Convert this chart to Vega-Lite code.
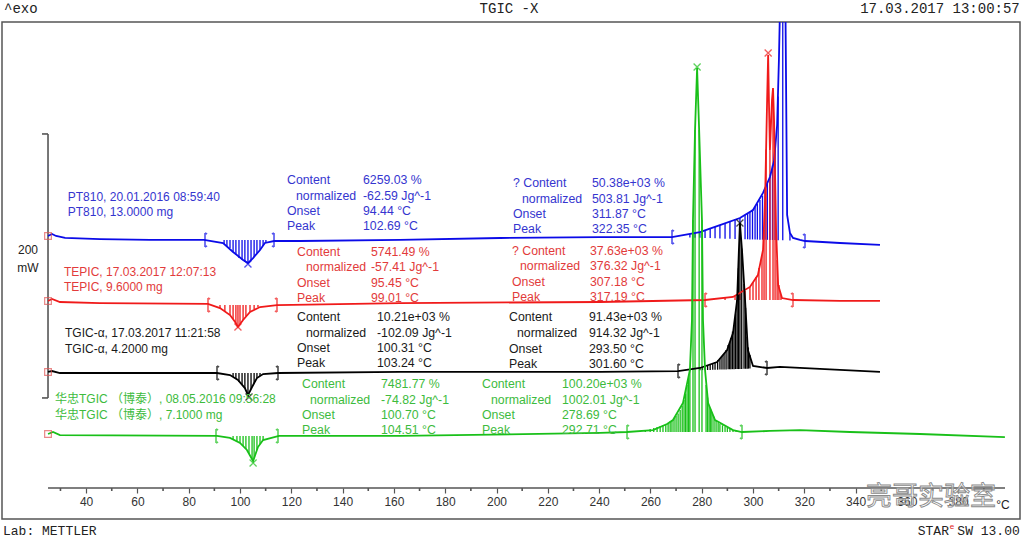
{
"$schema":"https://vega.github.io/schema/vega-lite/v6.json",
"width":1018,"height":497,
"autosize":{"type":"none"},
"padding":{"left":2,"top":22,"right":4,"bottom":26},
"background":"#ffffff",
"config":{"view":{"stroke":"#555555","strokeWidth":1.5},"font":"Liberation Sans"},
"datasets":{
"curves":[
{"s":"PT810","T":25.15,"mW":214.4},{"s":"PT810","T":26.7,"mW":215.9},{"s":"PT810","T":28.3,"mW":214.4},{"s":"PT810","T":31.8,"mW":212.9},{"s":"PT810","T":45.4,"mW":212.1},{"s":"PT810","T":64.9,"mW":211.4},{"s":"PT810","T":86.0,"mW":211.4},{"s":"PT810","T":93.4,"mW":209.1},{"s":"PT810","T":97.3,"mW":202.3},{"s":"PT810","T":101.2,"mW":196.2},{"s":"PT810","T":103.1,"mW":193.9},{"s":"PT810","T":105.1,"mW":197.7},{"s":"PT810","T":107.8,"mW":203.8},{"s":"PT810","T":109.7,"mW":209.1},{"s":"PT810","T":113.3,"mW":210.6},{"s":"PT810","T":123.4,"mW":210.6},{"s":"PT810","T":162.4,"mW":211.4},{"s":"PT810","T":201.4,"mW":212.9},{"s":"PT810","T":240.4,"mW":213.6},{"s":"PT810","T":268.4,"mW":213.6},{"s":"PT810","T":279.3,"mW":217.4},{"s":"PT810","T":287.1,"mW":222.7},{"s":"PT810","T":294.9,"mW":228.0},{"s":"PT810","T":300.0,"mW":234.1},{"s":"PT810","T":303.9,"mW":247.0},{"s":"PT810","T":306.6,"mW":259.1},{"s":"PT810","T":308.2,"mW":271.2},{"s":"PT810","T":309.4,"mW":298.5},{"s":"PT810","T":310.1,"mW":347.7},{"s":"PT810","T":310.9,"mW":423.5},{"s":"PT810","T":312.5,"mW":423.5},{"s":"PT810","T":313.3,"mW":230.3},{"s":"PT810","T":314.4,"mW":216.7},{"s":"PT810","T":315.6,"mW":212.9},{"s":"PT810","T":318.3,"mW":211.4},{"s":"PT810","T":320.3,"mW":210.6},{"s":"PT810","T":333.9,"mW":209.1},{"s":"PT810","T":349.5,"mW":207.6},
{"s":"TEPIC","T":25.15,"mW":165.2},{"s":"TEPIC","T":26.7,"mW":166.7},{"s":"TEPIC","T":29.8,"mW":164.4},{"s":"TEPIC","T":45.4,"mW":163.6},{"s":"TEPIC","T":87.5,"mW":162.9},{"s":"TEPIC","T":92.2,"mW":159.8},{"s":"TEPIC","T":96.1,"mW":154.5},{"s":"TEPIC","T":98.1,"mW":149.2},{"s":"TEPIC","T":99.2,"mW":145.5},{"s":"TEPIC","T":101.2,"mW":150.8},{"s":"TEPIC","T":103.9,"mW":156.8},{"s":"TEPIC","T":107.8,"mW":160.6},{"s":"TEPIC","T":114.4,"mW":162.1},{"s":"TEPIC","T":162.4,"mW":163.6},{"s":"TEPIC","T":240.4,"mW":164.4},{"s":"TEPIC","T":281.3,"mW":165.9},{"s":"TEPIC","T":292.2,"mW":168.2},{"s":"TEPIC","T":298.8,"mW":175.8},{"s":"TEPIC","T":301.9,"mW":184.8},{"s":"TEPIC","T":303.9,"mW":203.8},{"s":"TEPIC","T":304.7,"mW":241.7},{"s":"TEPIC","T":305.5,"mW":317.4},{"s":"TEPIC","T":305.9,"mW":351.5},{"s":"TEPIC","T":306.2,"mW":317.4},{"s":"TEPIC","T":306.6,"mW":279.5},{"s":"TEPIC","T":307.4,"mW":317.4},{"s":"TEPIC","T":307.8,"mW":326.5},{"s":"TEPIC","T":308.2,"mW":302.3},{"s":"TEPIC","T":309.0,"mW":218.9},{"s":"TEPIC","T":309.8,"mW":177.3},{"s":"TEPIC","T":311.3,"mW":167.4},{"s":"TEPIC","T":315.6,"mW":165.9},{"s":"TEPIC","T":333.9,"mW":165.2},{"s":"TEPIC","T":349.5,"mW":165.2},
{"s":"TGIC-α","T":25.15,"mW":111.4},{"s":"TGIC-α","T":26.7,"mW":112.1},{"s":"TGIC-α","T":29.8,"mW":110.6},{"s":"TGIC-α","T":91.0,"mW":110.6},{"s":"TGIC-α","T":96.1,"mW":109.1},{"s":"TGIC-α","T":99.2,"mW":105.3},{"s":"TGIC-α","T":101.9,"mW":99.2},{"s":"TGIC-α","T":103.1,"mW":93.9},{"s":"TGIC-α","T":104.7,"mW":100.0},{"s":"TGIC-α","T":106.6,"mW":106.8},{"s":"TGIC-α","T":109.0,"mW":109.8},{"s":"TGIC-α","T":114.8,"mW":110.6},{"s":"TGIC-α","T":162.4,"mW":111.4},{"s":"TGIC-α","T":240.4,"mW":111.4},{"s":"TGIC-α","T":270.8,"mW":112.1},{"s":"TGIC-α","T":279.3,"mW":114.4},{"s":"TGIC-α","T":286.0,"mW":118.9},{"s":"TGIC-α","T":289.9,"mW":128.0},{"s":"TGIC-α","T":292.2,"mW":140.9},{"s":"TGIC-α","T":293.8,"mW":165.9},{"s":"TGIC-α","T":294.5,"mW":203.8},{"s":"TGIC-α","T":294.9,"mW":224.2},{"s":"TGIC-α","T":295.7,"mW":203.8},{"s":"TGIC-α","T":296.9,"mW":165.9},{"s":"TGIC-α","T":298.0,"mW":128.0},{"s":"TGIC-α","T":300.0,"mW":115.9},{"s":"TGIC-α","T":305.5,"mW":114.4},{"s":"TGIC-α","T":310.5,"mW":115.2},{"s":"TGIC-α","T":333.9,"mW":112.9},{"s":"TGIC-α","T":349.5,"mW":111.4},
{"s":"华忠TGIC","T":25.15,"mW":64.4},{"s":"华忠TGIC","T":27.1,"mW":65.9},{"s":"华忠TGIC","T":29.8,"mW":63.6},{"s":"华忠TGIC","T":91.0,"mW":62.9},{"s":"华忠TGIC","T":96.1,"mW":61.4},{"s":"华忠TGIC","T":100.0,"mW":57.6},{"s":"华忠TGIC","T":102.7,"mW":52.3},{"s":"华忠TGIC","T":105.1,"mW":43.9},{"s":"华忠TGIC","T":107.0,"mW":54.5},{"s":"华忠TGIC","T":109.0,"mW":59.8},{"s":"华忠TGIC","T":115.2,"mW":62.9},{"s":"华忠TGIC","T":162.4,"mW":62.9},{"s":"华忠TGIC","T":240.4,"mW":65.2},{"s":"华忠TGIC","T":250.9,"mW":65.9},{"s":"华忠TGIC","T":261.0,"mW":67.4},{"s":"华忠TGIC","T":266.5,"mW":72.0},{"s":"华忠TGIC","T":268.8,"mW":75.0},{"s":"华忠TGIC","T":272.7,"mW":87.9},{"s":"华忠TGIC","T":275.4,"mW":112.9},{"s":"华忠TGIC","T":276.2,"mW":150.8},{"s":"华忠TGIC","T":276.6,"mW":226.5},{"s":"华忠TGIC","T":277.4,"mW":294.7},{"s":"华忠TGIC","T":278.2,"mW":341.7},{"s":"华忠TGIC","T":279.0,"mW":294.7},{"s":"华忠TGIC","T":280.1,"mW":226.5},{"s":"华忠TGIC","T":280.5,"mW":150.8},{"s":"华忠TGIC","T":281.3,"mW":112.9},{"s":"华忠TGIC","T":282.5,"mW":87.9},{"s":"华忠TGIC","T":285.2,"mW":75.0},{"s":"华忠TGIC","T":292.2,"mW":67.4},{"s":"华忠TGIC","T":295.7,"mW":65.9},{"s":"华忠TGIC","T":306.6,"mW":66.7},{"s":"华忠TGIC","T":318.3,"mW":67.4},{"s":"华忠TGIC","T":337.8,"mW":65.9},{"s":"华忠TGIC","T":365.1,"mW":64.4},{"s":"华忠TGIC","T":398.2,"mW":62.1}
],
"hatch":[
{"s":"PT810","T":93.8,"mW":208.3,"mW2":211.4},{"s":"PT810","T":94.9,"mW":206.8,"mW2":211.4},{"s":"PT810","T":96.1,"mW":205.3,"mW2":211.4},{"s":"PT810","T":97.3,"mW":202.3,"mW2":211.4},{"s":"PT810","T":98.4,"mW":200.0,"mW2":211.4},{"s":"PT810","T":99.6,"mW":197.7,"mW2":211.4},{"s":"PT810","T":100.8,"mW":196.2,"mW2":211.4},{"s":"PT810","T":101.9,"mW":194.7,"mW2":211.4},{"s":"PT810","T":103.1,"mW":193.9,"mW2":211.4},{"s":"PT810","T":104.3,"mW":196.2,"mW2":211.4},{"s":"PT810","T":105.5,"mW":198.5,"mW2":211.4},{"s":"PT810","T":106.6,"mW":201.5,"mW2":211.4},{"s":"PT810","T":107.8,"mW":203.8,"mW2":211.4},{"s":"PT810","T":109.0,"mW":206.8,"mW2":211.4},{"s":"PT810","T":110.1,"mW":209.8,"mW2":211.4},
{"s":"PT810","T":275.4,"mW":215.9,"mW2":213.3},{"s":"PT810","T":277.4,"mW":216.7,"mW2":213.1},{"s":"PT810","T":279.3,"mW":217.4,"mW2":213.0},{"s":"PT810","T":281.3,"mW":218.9,"mW2":212.9},{"s":"PT810","T":283.3,"mW":220.5,"mW2":212.8},{"s":"PT810","T":285.2,"mW":221.2,"mW2":212.6},{"s":"PT810","T":287.1,"mW":222.7,"mW2":212.5},{"s":"PT810","T":289.1,"mW":224.2,"mW2":212.4},{"s":"PT810","T":291.0,"mW":225.8,"mW2":212.3},{"s":"PT810","T":293.0,"mW":227.3,"mW2":212.2},{"s":"PT810","T":294.9,"mW":228.0,"mW2":212.1},{"s":"PT810","T":296.9,"mW":230.3,"mW2":211.9},{"s":"PT810","T":297.9,"mW":231.4,"mW2":211.9},{"s":"PT810","T":298.8,"mW":232.6,"mW2":211.8},{"s":"PT810","T":299.8,"mW":234.4,"mW2":211.8},{"s":"PT810","T":300.8,"mW":236.4,"mW2":211.7},{"s":"PT810","T":301.7,"mW":238.8,"mW2":211.7},{"s":"PT810","T":302.7,"mW":241.7,"mW2":211.6},{"s":"PT810","T":303.7,"mW":245.0,"mW2":211.6},{"s":"PT810","T":304.7,"mW":249.2,"mW2":211.5},{"s":"PT810","T":305.6,"mW":253.8,"mW2":211.5},{"s":"PT810","T":306.6,"mW":259.1,"mW2":211.4},{"s":"PT810","T":307.6,"mW":268.0,"mW2":211.4},{"s":"PT810","T":308.6,"mW":280.0,"mW2":211.3},{"s":"PT810","T":309.8,"mW":320.0,"mW2":211.2},{"s":"PT810","T":311.6,"mW":400.0,"mW2":211.1},{"s":"PT810","T":314.4,"mW":216.7,"mW2":211.0},
{"s":"TEPIC","T":92.2,"mW":159.8,"mW2":162.1},{"s":"TEPIC","T":94.1,"mW":157.6,"mW2":162.1},{"s":"TEPIC","T":96.1,"mW":154.5,"mW2":162.1},{"s":"TEPIC","T":97.3,"mW":151.5,"mW2":162.1},{"s":"TEPIC","T":98.4,"mW":147.7,"mW2":162.1},{"s":"TEPIC","T":99.2,"mW":145.5,"mW2":162.1},{"s":"TEPIC","T":100.0,"mW":147.7,"mW2":162.1},{"s":"TEPIC","T":101.2,"mW":150.8,"mW2":162.1},{"s":"TEPIC","T":102.3,"mW":153.8,"mW2":162.1},{"s":"TEPIC","T":103.9,"mW":156.8,"mW2":162.1},{"s":"TEPIC","T":105.5,"mW":159.1,"mW2":162.1},{"s":"TEPIC","T":107.0,"mW":160.6,"mW2":162.1},
{"s":"TEPIC","T":289.1,"mW":167.4,"mW2":165.9},{"s":"TEPIC","T":293.0,"mW":168.9,"mW2":165.9},{"s":"TEPIC","T":294.9,"mW":170.5,"mW2":165.9},{"s":"TEPIC","T":296.9,"mW":172.7,"mW2":165.9},{"s":"TEPIC","T":298.8,"mW":175.8,"mW2":165.9},{"s":"TEPIC","T":300.0,"mW":179.5,"mW2":165.9},{"s":"TEPIC","T":301.2,"mW":183.3,"mW2":165.9},{"s":"TEPIC","T":302.3,"mW":190.2,"mW2":165.9},{"s":"TEPIC","T":303.5,"mW":200.0,"mW2":165.9},{"s":"TEPIC","T":304.3,"mW":218.9,"mW2":165.9},{"s":"TEPIC","T":305.1,"mW":280.0,"mW2":165.9},{"s":"TEPIC","T":306.6,"mW":279.5,"mW2":165.9},{"s":"TEPIC","T":307.8,"mW":320.0,"mW2":165.9},{"s":"TEPIC","T":308.6,"mW":260.0,"mW2":165.9},{"s":"TEPIC","T":309.4,"mW":196.2,"mW2":165.9},{"s":"TEPIC","T":310.1,"mW":177.3,"mW2":165.9},{"s":"TEPIC","T":310.9,"mW":169.7,"mW2":165.9},
{"s":"TGIC-α","T":97.3,"mW":107.6,"mW2":110.6},{"s":"TGIC-α","T":98.4,"mW":106.1,"mW2":110.6},{"s":"TGIC-α","T":99.6,"mW":103.8,"mW2":110.6},{"s":"TGIC-α","T":100.8,"mW":101.5,"mW2":110.6},{"s":"TGIC-α","T":101.9,"mW":99.2,"mW2":110.6},{"s":"TGIC-α","T":103.1,"mW":93.9,"mW2":110.6},{"s":"TGIC-α","T":104.3,"mW":98.5,"mW2":110.6},{"s":"TGIC-α","T":105.5,"mW":103.0,"mW2":110.6},{"s":"TGIC-α","T":106.6,"mW":106.8,"mW2":110.6},{"s":"TGIC-α","T":107.8,"mW":108.3,"mW2":110.6},
{"s":"TGIC-α","T":279.3,"mW":114.4,"mW2":112.7},{"s":"TGIC-α","T":280.3,"mW":115.0,"mW2":112.8},{"s":"TGIC-α","T":281.3,"mW":115.9,"mW2":112.8},{"s":"TGIC-α","T":282.3,"mW":116.6,"mW2":112.9},{"s":"TGIC-α","T":283.3,"mW":117.4,"mW2":112.9},{"s":"TGIC-α","T":284.3,"mW":118.1,"mW2":113.0},{"s":"TGIC-α","T":285.2,"mW":118.9,"mW2":113.1},{"s":"TGIC-α","T":286.2,"mW":120.3,"mW2":113.1},{"s":"TGIC-α","T":287.1,"mW":122.0,"mW2":113.2},{"s":"TGIC-α","T":287.9,"mW":123.5,"mW2":113.2},{"s":"TGIC-α","T":288.7,"mW":125.0,"mW2":113.3},{"s":"TGIC-α","T":289.5,"mW":128.0,"mW2":113.3},{"s":"TGIC-α","T":290.3,"mW":131.8,"mW2":113.4},{"s":"TGIC-α","T":290.9,"mW":134.0,"mW2":113.4},{"s":"TGIC-α","T":291.4,"mW":137.1,"mW2":113.5},{"s":"TGIC-α","T":292.0,"mW":142.0,"mW2":113.5},{"s":"TGIC-α","T":292.6,"mW":147.0,"mW2":113.5},{"s":"TGIC-α","T":293.2,"mW":155.0,"mW2":113.6},{"s":"TGIC-α","T":293.8,"mW":165.9,"mW2":113.6},{"s":"TGIC-α","T":294.3,"mW":190.0,"mW2":113.6},{"s":"TGIC-α","T":294.9,"mW":224.2,"mW2":113.7},{"s":"TGIC-α","T":295.6,"mW":205.0,"mW2":113.7},{"s":"TGIC-α","T":296.5,"mW":178.0,"mW2":113.8},{"s":"TGIC-α","T":297.1,"mW":160.0,"mW2":113.8},{"s":"TGIC-α","T":297.7,"mW":138.0,"mW2":113.9},{"s":"TGIC-α","T":298.2,"mW":130.0,"mW2":113.9},{"s":"TGIC-α","T":298.8,"mW":124.2,"mW2":114.0},
{"s":"华忠TGIC","T":97.3,"mW":59.8,"mW2":62.9},{"s":"华忠TGIC","T":98.8,"mW":58.3,"mW2":62.9},{"s":"华忠TGIC","T":100.0,"mW":57.6,"mW2":62.9},{"s":"华忠TGIC","T":101.2,"mW":55.3,"mW2":62.9},{"s":"华忠TGIC","T":102.3,"mW":53.0,"mW2":62.9},{"s":"华忠TGIC","T":103.5,"mW":49.2,"mW2":62.9},{"s":"华忠TGIC","T":104.7,"mW":45.5,"mW2":62.9},{"s":"华忠TGIC","T":105.5,"mW":46.1,"mW2":62.9},{"s":"华忠TGIC","T":106.6,"mW":52.3,"mW2":62.9},{"s":"华忠TGIC","T":107.8,"mW":56.8,"mW2":62.9},{"s":"华忠TGIC","T":109.0,"mW":59.8,"mW2":62.9},
{"s":"华忠TGIC","T":256.0,"mW":66.7,"mW2":65.9},{"s":"华忠TGIC","T":258.0,"mW":67.4,"mW2":65.9},{"s":"华忠TGIC","T":259.9,"mW":68.2,"mW2":65.9},{"s":"华忠TGIC","T":261.3,"mW":69.0,"mW2":65.9},{"s":"华忠TGIC","T":262.6,"mW":69.7,"mW2":65.9},{"s":"华忠TGIC","T":263.8,"mW":70.5,"mW2":65.9},{"s":"华忠TGIC","T":264.9,"mW":71.2,"mW2":65.9},{"s":"华忠TGIC","T":266.0,"mW":72.0,"mW2":65.9},{"s":"华忠TGIC","T":266.9,"mW":72.7,"mW2":65.9},{"s":"华忠TGIC","T":267.7,"mW":73.8,"mW2":65.9},{"s":"华忠TGIC","T":268.4,"mW":75.0,"mW2":65.9},{"s":"华忠TGIC","T":269.2,"mW":76.5,"mW2":65.9},{"s":"华忠TGIC","T":270.0,"mW":78.0,"mW2":65.9},{"s":"华忠TGIC","T":270.8,"mW":80.0,"mW2":65.9},{"s":"华忠TGIC","T":271.6,"mW":82.6,"mW2":65.9},{"s":"华忠TGIC","T":272.4,"mW":86.0,"mW2":65.9},{"s":"华忠TGIC","T":273.1,"mW":90.2,"mW2":65.9},{"s":"华忠TGIC","T":273.7,"mW":95.0,"mW2":65.9},{"s":"华忠TGIC","T":274.3,"mW":101.5,"mW2":65.9},{"s":"华忠TGIC","T":274.9,"mW":107.0,"mW2":65.9},{"s":"华忠TGIC","T":275.4,"mW":112.9,"mW2":65.9},{"s":"华忠TGIC","T":276.6,"mW":226.5,"mW2":65.9},{"s":"华忠TGIC","T":277.4,"mW":294.7,"mW2":65.9},{"s":"华忠TGIC","T":279.0,"mW":294.7,"mW2":65.9},{"s":"华忠TGIC","T":280.1,"mW":226.5,"mW2":65.9},{"s":"华忠TGIC","T":281.7,"mW":101.5,"mW2":65.9},{"s":"华忠TGIC","T":282.3,"mW":92.0,"mW2":65.9},{"s":"华忠TGIC","T":282.9,"mW":86.0,"mW2":65.9},{"s":"华忠TGIC","T":283.5,"mW":83.0,"mW2":65.9},{"s":"华忠TGIC","T":284.0,"mW":80.5,"mW2":65.9},{"s":"华忠TGIC","T":284.8,"mW":77.5,"mW2":65.9},{"s":"华忠TGIC","T":285.6,"mW":74.5,"mW2":65.9},{"s":"华忠TGIC","T":286.4,"mW":73.0,"mW2":65.9},{"s":"华忠TGIC","T":287.1,"mW":72.0,"mW2":65.9},{"s":"华忠TGIC","T":288.1,"mW":71.0,"mW2":65.9},{"s":"华忠TGIC","T":289.1,"mW":70.0,"mW2":65.9},{"s":"华忠TGIC","T":290.0,"mW":69.2,"mW2":65.9},{"s":"华忠TGIC","T":291.0,"mW":68.5,"mW2":65.9},{"s":"华忠TGIC","T":292.2,"mW":67.7,"mW2":65.9},{"s":"华忠TGIC","T":293.4,"mW":67.0,"mW2":65.9}
],
"limits":[
{"s":"PT810","T":86.35,"mW":211.4,"side":"L"},{"s":"PT810","T":113.26,"mW":211.4,"side":"R"},{"s":"PT810","T":268.42,"mW":213.6,"side":"L"},{"s":"PT810","T":320.27,"mW":210.6,"side":"R"},
{"s":"TEPIC","T":87.52,"mW":162.1,"side":"L"},{"s":"TEPIC","T":114.42,"mW":162.1,"side":"R"},{"s":"TEPIC","T":281.29,"mW":165.9,"side":"L"},{"s":"TEPIC","T":315.59,"mW":165.9,"side":"R"},
{"s":"TGIC-α","T":91.03,"mW":110.6,"side":"L"},{"s":"TGIC-α","T":114.81,"mW":110.6,"side":"R"},{"s":"TGIC-α","T":270.76,"mW":112.1,"side":"L"},{"s":"TGIC-α","T":305.46,"mW":114.4,"side":"R"},
{"s":"华忠TGIC","T":90.64,"mW":62.9,"side":"L"},{"s":"华忠TGIC","T":114.81,"mW":62.9,"side":"R"},{"s":"华忠TGIC","T":250.88,"mW":65.9,"side":"L"},{"s":"华忠TGIC","T":295.71,"mW":65.9,"side":"R"}
],
"peaks":[
{"s":"PT810","T":103.1,"mW":193.2},{"s":"TEPIC","T":99.2,"mW":145.5},{"s":"TGIC-α","T":103.5,"mW":92.4},{"s":"华忠TGIC","T":105.1,"mW":42.4},{"s":"TEPIC","T":305.9,"mW":353.0},{"s":"华忠TGIC","T":278.2,"mW":342.4},{"s":"TGIC-α","T":294.9,"mW":224.2}
],
"starts":[
{"s":"PT810","T":25.15,"mW":214.4},{"s":"TEPIC","T":25.15,"mW":165.2},{"s":"TGIC-α","T":25.15,"mW":111.4},{"s":"华忠TGIC","T":25.15,"mW":64.4}
],
"names":[
{"s":"PT810","T":32.83,"mW":243.7,"txt":"PT810, 20.01.2016 08:59:40"},{"s":"PT810","T":32.83,"mW":232.3,"txt":"PT810, 13.0000 mg"},
{"s":"TEPIC","T":31.39,"mW":187.3,"txt":"TEPIC, 17.03.2017 12:07:13"},{"s":"TEPIC","T":31.39,"mW":176.0,"txt":"TEPIC, 9.6000 mg"},
{"s":"TGIC-α","T":31.78,"mW":140.7,"txt":"TGIC-α, 17.03.2017 11:21:58"},{"s":"TGIC-α","T":31.78,"mW":128.6,"txt":"TGIC-α, 4.2000 mg"},
{"s":"华忠TGIC","T":27.88,"mW":90.9,"txt":"华忠TGIC （博泰）, 08.05.2016 09:56:28"},{"s":"华忠TGIC","T":27.88,"mW":78.8,"txt":"华忠TGIC （博泰）, 7.1000 mg"}
],
"blocks":[
{"s":"PT810","T":118.32,"mW":256.8,"txt":"Content"},{"s":"PT810","T":121.83,"mW":244.7,"txt":"normalized"},{"s":"PT810","T":118.32,"mW":233.3,"txt":"Onset"},{"s":"PT810","T":118.32,"mW":222.0,"txt":"Peak"},
{"s":"PT810","T":147.95,"mW":256.8,"txt":"6259.03 %"},{"s":"PT810","T":147.95,"mW":244.7,"txt":"-62.59 Jg^-1"},{"s":"PT810","T":147.95,"mW":233.3,"txt":"94.44 °C"},{"s":"PT810","T":147.95,"mW":222.0,"txt":"102.69 °C"},
{"s":"PT810","T":206.43,"mW":254.5,"txt":"? Content"},{"s":"PT810","T":209.94,"mW":242.4,"txt":"normalized"},{"s":"PT810","T":206.43,"mW":231.1,"txt":"Onset"},{"s":"PT810","T":206.43,"mW":219.7,"txt":"Peak"},
{"s":"PT810","T":237.23,"mW":254.5,"txt":"50.38e+03 %"},{"s":"PT810","T":237.23,"mW":242.4,"txt":"503.81 Jg^-1"},{"s":"PT810","T":237.23,"mW":231.1,"txt":"311.87 °C"},{"s":"PT810","T":237.23,"mW":219.7,"txt":"322.35 °C"},
{"s":"TEPIC","T":122.22,"mW":202.3,"txt":"Content"},{"s":"TEPIC","T":125.73,"mW":190.9,"txt":"normalized"},{"s":"TEPIC","T":122.22,"mW":178.8,"txt":"Onset"},{"s":"TEPIC","T":122.22,"mW":167.4,"txt":"Peak"},
{"s":"TEPIC","T":151.07,"mW":202.3,"txt":"5741.49 %"},{"s":"TEPIC","T":151.07,"mW":190.9,"txt":"-57.41 Jg^-1"},{"s":"TEPIC","T":151.07,"mW":178.8,"txt":"95.45 °C"},{"s":"TEPIC","T":151.07,"mW":167.4,"txt":"99.01 °C"},
{"s":"TEPIC","T":206.04,"mW":203.0,"txt":"? Content"},{"s":"TEPIC","T":209.16,"mW":191.7,"txt":"normalized"},{"s":"TEPIC","T":206.04,"mW":179.5,"txt":"Onset"},{"s":"TEPIC","T":206.04,"mW":168.2,"txt":"Peak"},
{"s":"TEPIC","T":236.45,"mW":203.0,"txt":"37.63e+03 %"},{"s":"TEPIC","T":236.45,"mW":191.7,"txt":"376.32 Jg^-1"},{"s":"TEPIC","T":236.45,"mW":179.5,"txt":"307.18 °C"},{"s":"TEPIC","T":236.45,"mW":168.2,"txt":"317.19 °C"},
{"s":"TGIC-α","T":122.22,"mW":153.0,"txt":"Content"},{"s":"TGIC-α","T":125.73,"mW":140.9,"txt":"normalized"},{"s":"TGIC-α","T":122.22,"mW":129.5,"txt":"Onset"},{"s":"TGIC-α","T":122.22,"mW":118.2,"txt":"Peak"},
{"s":"TGIC-α","T":153.41,"mW":153.0,"txt":"10.21e+03 %"},{"s":"TGIC-α","T":153.41,"mW":140.9,"txt":"-102.09 Jg^-1"},{"s":"TGIC-α","T":153.41,"mW":129.5,"txt":"100.31 °C"},{"s":"TGIC-α","T":153.41,"mW":118.2,"txt":"103.24 °C"},
{"s":"TGIC-α","T":204.87,"mW":153.0,"txt":"Content"},{"s":"TGIC-α","T":207.99,"mW":140.9,"txt":"normalized"},{"s":"TGIC-α","T":204.87,"mW":128.8,"txt":"Onset"},{"s":"TGIC-α","T":204.87,"mW":117.4,"txt":"Peak"},
{"s":"TGIC-α","T":236.06,"mW":153.0,"txt":"91.43e+03 %"},{"s":"TGIC-α","T":236.06,"mW":140.9,"txt":"914.32 Jg^-1"},{"s":"TGIC-α","T":236.06,"mW":128.8,"txt":"293.50 °C"},{"s":"TGIC-α","T":236.06,"mW":117.4,"txt":"301.60 °C"},
{"s":"华忠TGIC","T":124.17,"mW":102.3,"txt":"Content"},{"s":"华忠TGIC","T":127.29,"mW":90.2,"txt":"normalized"},{"s":"华忠TGIC","T":124.17,"mW":78.8,"txt":"Onset"},{"s":"华忠TGIC","T":124.17,"mW":67.4,"txt":"Peak"},
{"s":"华忠TGIC","T":154.97,"mW":102.3,"txt":"7481.77 %"},{"s":"华忠TGIC","T":154.97,"mW":90.2,"txt":"-74.82 Jg^-1"},{"s":"华忠TGIC","T":154.97,"mW":78.8,"txt":"100.70 °C"},{"s":"华忠TGIC","T":154.97,"mW":67.4,"txt":"104.51 °C"},
{"s":"华忠TGIC","T":194.35,"mW":102.3,"txt":"Content"},{"s":"华忠TGIC","T":197.86,"mW":90.2,"txt":"normalized"},{"s":"华忠TGIC","T":194.35,"mW":78.8,"txt":"Onset"},{"s":"华忠TGIC","T":194.35,"mW":67.4,"txt":"Peak"},
{"s":"华忠TGIC","T":225.53,"mW":102.3,"txt":"100.20e+03 %"},{"s":"华忠TGIC","T":225.53,"mW":90.2,"txt":"1002.01 Jg^-1"},{"s":"华忠TGIC","T":225.53,"mW":78.8,"txt":"278.69 °C"},{"s":"华忠TGIC","T":225.53,"mW":67.4,"txt":"292.71 °C"}
],
"segs":[
{"T":25.15,"T2":398.25,"mW":23.5,"mW2":23.5},
{"T":25.15,"T2":25.15,"mW":91.7,"mW2":291.7},
{"T":22.8,"T2":25.15,"mW":291.7,"mW2":291.7},
{"T":22.8,"T2":25.15,"mW":91.7,"mW2":91.7},
{"T":30,"T2":30,"mW":23.5,"mW2":21.2},{"T":50,"T2":50,"mW":23.5,"mW2":21.2},{"T":70,"T2":70,"mW":23.5,"mW2":21.2},{"T":90,"T2":90,"mW":23.5,"mW2":21.2},{"T":110,"T2":110,"mW":23.5,"mW2":21.2},{"T":130,"T2":130,"mW":23.5,"mW2":21.2},{"T":150,"T2":150,"mW":23.5,"mW2":21.2},{"T":170,"T2":170,"mW":23.5,"mW2":21.2},{"T":190,"T2":190,"mW":23.5,"mW2":21.2},{"T":210,"T2":210,"mW":23.5,"mW2":21.2},{"T":230,"T2":230,"mW":23.5,"mW2":21.2},{"T":250,"T2":250,"mW":23.5,"mW2":21.2},{"T":270,"T2":270,"mW":23.5,"mW2":21.2},{"T":290,"T2":290,"mW":23.5,"mW2":21.2},{"T":310,"T2":310,"mW":23.5,"mW2":21.2},{"T":330,"T2":330,"mW":23.5,"mW2":21.2},{"T":350,"T2":350,"mW":23.5,"mW2":21.2},{"T":370,"T2":370,"mW":23.5,"mW2":21.2},{"T":390,"T2":390,"mW":23.5,"mW2":21.2}
]
},
"encoding":{
"x":{"field":"T","type":"quantitative","scale":{"domain":[7.21,404.09],"nice":false,"zero":false},
 "axis":{"orient":"bottom","offset":-31,"domain":false,"grid":false,"title":null,"values":[40,60,80,100,120,140,160,180,200,220,240,260,280,300,320,340,360,380],"tickSize":5,"tickColor":"#555555","tickWidth":1.2,"labelFont":"Liberation Sans","labelFontSize":12,"labelColor":"#333333","labelPadding":3,"labelOverlap":false,"labelFlush":false}},
"y":{"field":"mW","type":"quantitative","scale":{"domain":[0,376.52],"nice":false,"zero":false},"axis":null}
},
"resolve":{"scale":{"color":"independent"}},
"layer":[
{"data":{"name":"segs"},"mark":{"type":"rule","color":"#555555","strokeWidth":1.6},"encoding":{"x2":{"field":"T2"},"y2":{"field":"mW2"}}},
{"data":{"name":"hatch"},"mark":{"type":"rule","strokeWidth":1.3,"clip":true},"encoding":{"y2":{"field":"mW2"},"color":{"field":"s","type":"nominal","legend":null,"scale":{"domain":["PT810","TEPIC","TGIC-α","华忠TGIC"],"range":["#0b0be8","#f01a1a","#000000","#19c019"]}}}},
{"data":{"name":"curves"},"mark":{"type":"line","strokeWidth":1.8,"clip":true},"encoding":{"color":{"field":"s","type":"nominal","legend":null,"scale":{"domain":["PT810","TEPIC","TGIC-α","华忠TGIC"],"range":["#0b0be8","#f01a1a","#000000","#19c019"]}}}},
{"data":{"name":"limits"},"mark":{"type":"point","filled":false,"size":196,"strokeWidth":1.6},"encoding":{"shape":{"field":"side","type":"nominal","legend":null,"scale":{"domain":["L","R"],"range":["M0,-1L0,1M0,-1L0.3,-0.85M0,1L0.3,0.85","M0,-1L0,1M0,-1L-0.3,-0.85M0,1L-0.3,0.85"]}},"color":{"field":"s","type":"nominal","legend":null,"scale":{"domain":["PT810","TEPIC","TGIC-α","华忠TGIC"],"range":["#0b0be8","#f01a1a","#000000","#19c019"]}}}},
{"data":{"name":"peaks"},"mark":{"type":"point","filled":false,"size":49,"strokeWidth":1.3,"shape":"M-1,-1L1,1M1,-1L-1,1"},"encoding":{"color":{"field":"s","type":"nominal","legend":null,"scale":{"domain":["PT810","TEPIC","TGIC-α","华忠TGIC"],"range":["#0b0be8","#f01a1a","#000000","#19c019"]}}}},
{"data":{"name":"starts"},"mark":{"type":"point","shape":"square","filled":false,"size":45,"color":"#e05555","strokeWidth":1.2}},
{"data":{"name":"names"},"mark":{"type":"text","align":"left","baseline":"middle","fontSize":12,"font":"Liberation Sans, Noto Sans CJK SC"},"encoding":{"text":{"field":"txt"},"color":{"field":"s","type":"nominal","legend":null,"scale":{"domain":["PT810","TEPIC","TGIC-α","华忠TGIC"],"range":["#3535cf","#e23b3b","#1a1a1a","#3dbb3d"]}}}},
{"data":{"name":"blocks"},"mark":{"type":"text","align":"left","baseline":"middle","fontSize":12.3,"font":"Liberation Sans"},"encoding":{"text":{"field":"txt"},"color":{"field":"s","type":"nominal","legend":null,"scale":{"domain":["PT810","TEPIC","TGIC-α","华忠TGIC"],"range":["#3535cf","#e23b3b","#1a1a1a","#3dbb3d"]}}}},
{"data":{"values":[{"T":17.35,"mW":203.8,"txt":"200"},{"T":17.35,"mW":190.2,"txt":"mW"},{"T":397.46,"mW":10.6,"txt":"°C"}]},"mark":{"type":"text","align":"center","baseline":"middle","fontSize":12,"font":"Liberation Sans","color":"#222222"},"encoding":{"text":{"field":"txt"}}},
{"data":{"values":[{"T":7.99,"mW":386.4,"txt":"^exo"}]},"mark":{"type":"text","align":"left","baseline":"middle","fontSize":14,"font":"Liberation Mono","color":"#222222"},"encoding":{"text":{"field":"txt"}}},
{"data":{"values":[{"T":7.6,"mW":-9.1,"txt":"Lab: METTLER"}]},"mark":{"type":"text","align":"left","baseline":"middle","fontSize":13,"font":"Liberation Mono","color":"#222222"},"encoding":{"text":{"field":"txt"}}},
{"data":{"values":[{"T":204.87,"mW":386.4,"txt":"TGIC -X"}]},"mark":{"type":"text","align":"center","baseline":"middle","fontSize":14,"font":"Liberation Mono","color":"#222222"},"encoding":{"text":{"field":"txt"}}},
{"data":{"values":[{"T":404.0,"mW":386.4,"txt":"17.03.2017 13:00:57"}]},"mark":{"type":"text","align":"right","baseline":"middle","fontSize":14,"font":"Liberation Mono","color":"#222222"},"encoding":{"text":{"field":"txt"}}},
{"data":{"values":[{"T":404.0,"mW":-9.1,"txt":"SW 13.00"},{"T":376.4,"mW":-9.1,"txt":"STAR"}]},"mark":{"type":"text","align":"right","baseline":"middle","fontSize":13,"font":"Liberation Mono","color":"#222222"},"encoding":{"text":{"field":"txt"}}},
{"data":{"values":[{"T":376.7,"mW":-6.1,"txt":"e"}]},"mark":{"type":"text","align":"left","baseline":"middle","fontSize":8,"font":"Liberation Sans","color":"#e02020"},"encoding":{"text":{"field":"txt"}}},
{"data":{"values":[{"T":369.4,"mW":16.7,"txt":"亮哥实验室"}]},"mark":{"type":"text","align":"center","baseline":"middle","fontSize":26,"font":"Noto Sans CJK SC","color":"#ffffff","fillOpacity":0.55,"stroke":"#8a8a8a","strokeWidth":0.9},"encoding":{"text":{"field":"txt"}}}
]
}
